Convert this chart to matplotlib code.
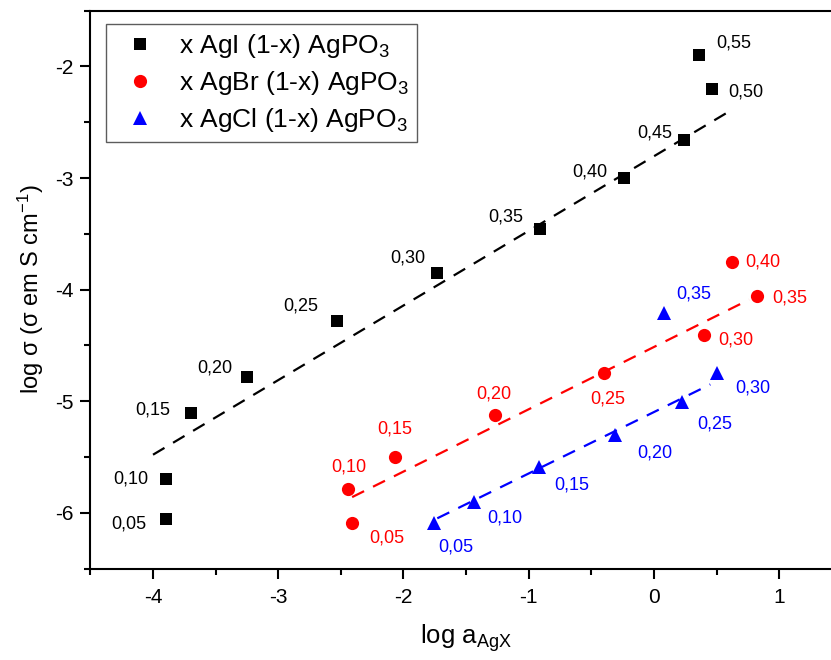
import numpy as np
import matplotlib
matplotlib.use("Agg")
import matplotlib.pyplot as plt

plt.rcParams["font.family"] = ["Liberation Sans", "DejaVu Sans"]
plt.rcParams["mathtext.fontset"] = "custom"
plt.rcParams["mathtext.rm"] = "Liberation Sans"
plt.rcParams["mathtext.it"] = "Liberation Sans:italic"
plt.rcParams["axes.unicode_minus"] = False

# --- data ---
agi_x = [-3.90, -3.90, -3.70, -3.25, -2.53, -1.73, -0.91, -0.24, 0.24, 0.46, 0.36]
agi_y = [-6.06, -5.70, -5.11, -4.78, -4.28, -3.85, -3.46, -3.00, -2.66, -2.20, -1.90]
agi_comp = [0.05, 0.10, 0.15, 0.20, 0.25, 0.30, 0.35, 0.40, 0.45, 0.50, 0.55]

agbr_x = [-2.41, -2.44, -2.07, -1.27, -0.40, 0.40, 0.82, 0.62]
agbr_y = [-6.09, -5.79, -5.50, -5.12, -4.75, -4.41, -4.06, -3.75]
agbr_comp = [0.05, 0.10, 0.15, 0.20, 0.25, 0.30, 0.35, 0.40]

agcl_x = [-1.76, -1.44, -0.92, -0.31, 0.22, 0.50, 0.08]
agcl_y = [-6.09, -5.90, -5.59, -5.30, -5.01, -4.75, -4.21]
agcl_comp = [0.05, 0.10, 0.15, 0.20, 0.25, 0.30, 0.35]

# linear fits (end points of the dashed lines)
agi_fit_x = [-4.00, 0.59]
agi_fit_y = [-5.48, -2.41]
agbr_fit_x = [-2.41, 0.76]
agbr_fit_y = [-5.86, -4.09]
agcl_fit_x = [-1.73, 0.45]
agcl_fit_y = [-6.05, -4.85]

legend_labels = [r"x AgI (1-x) AgPO$_3$", r"x AgBr (1-x) AgPO$_3$", r"x AgCl (1-x) AgPO$_3$"]

# label offsets in pixels (dx, dy), layout only
agi_off = [(-37, -5), (-35, 0), (-38, 3), (-32, 9), (-36, 15), (-29, 15),
           (-34, 12), (-34, 6), (-29, 7), (34, -3), (35, 12)]
agbr_off = [(35, -15), (0, 22), (0, 28), (-1, 21), (4, -26), (32, -5), (33, -2), (31, 0)]
agcl_off = [(22, -24), (31, -16), (33, -18), (40, -18), (33, -22), (36, -15), (30, 19)]

W, H = 831, 660
fig = plt.figure(figsize=(W / 100, H / 100), dpi=100)
ax = fig.add_axes([90.4 / W, (H - 568.5) / H, 751.4 / W, 557.8 / H])

dash = (0, (6, 4.5))
series = [
    (agi_x, agi_y, agi_comp, agi_fit_x, agi_fit_y, agi_off, "black", "s", 8.5),
    (agbr_x, agbr_y, agbr_comp, agbr_fit_x, agbr_fit_y, agbr_off, "red", "o", 9.5),
    (agcl_x, agcl_y, agcl_comp, agcl_fit_x, agcl_fit_y, agcl_off, "blue", "^", 10),
]

for (xs, ys, comp, fx, fy, offs, col, mk, ms), lab in zip(series, legend_labels):
    ax.plot(fx, fy, color=col, lw=1.6, linestyle=dash, zorder=2)
    ax.plot(xs, ys, linestyle="none", marker=mk, ms=ms, color=col,
            markeredgewidth=0, label=lab, zorder=3)
    for x, y, c, (dx, dy) in zip(xs, ys, comp, offs):
        ax.annotate(f"{c:.2f}".replace(".", ","), (x, y), xytext=(dx, dy),
                    textcoords="offset pixels", ha="center", va="center",
                    fontsize=13, color=col)

ax.set_xlim(-4.5, 1.5)
ax.set_ylim(-6.5, -1.5)
ax.set_xticks(np.arange(-4, 2, 1))
ax.set_yticks(np.arange(-6, -1, 1))
ax.set_xticks(np.arange(-4.5, 1.6, 0.5), minor=True)
ax.set_yticks(np.arange(-6.5, -1.4, 0.5), minor=True)
ax.tick_params(which="both", direction="out", width=1.5, labelsize=15, top=False, right=False)
ax.tick_params(which="major", length=7)
ax.tick_params(which="minor", length=4)
ax.tick_params(axis="x", pad=7)
ax.tick_params(axis="y", pad=5)
for s in ax.spines.values():
    s.set_linewidth(1.5)
ax.spines["right"].set_visible(False)

ax.set_xlabel(r"log a$_{\mathrm{AgX}}$", fontsize=18.5, labelpad=11)
ax.set_ylabel(r"log σ (σ em S cm$^{-1}$)", fontsize=17, labelpad=7)

leg = ax.legend(loc="upper left", bbox_to_anchor=(106 / W, 1 - 24 / H),
                bbox_transform=fig.transFigure, borderaxespad=0, fontsize=19,
                frameon=True, fancybox=False, edgecolor="#333333", numpoints=1,
                handlelength=2.0, handletextpad=0.45, borderpad=0.3, labelspacing=0.35)
leg.get_frame().set_linewidth(1.0)

fig.savefig("out.png", dpi=100)
